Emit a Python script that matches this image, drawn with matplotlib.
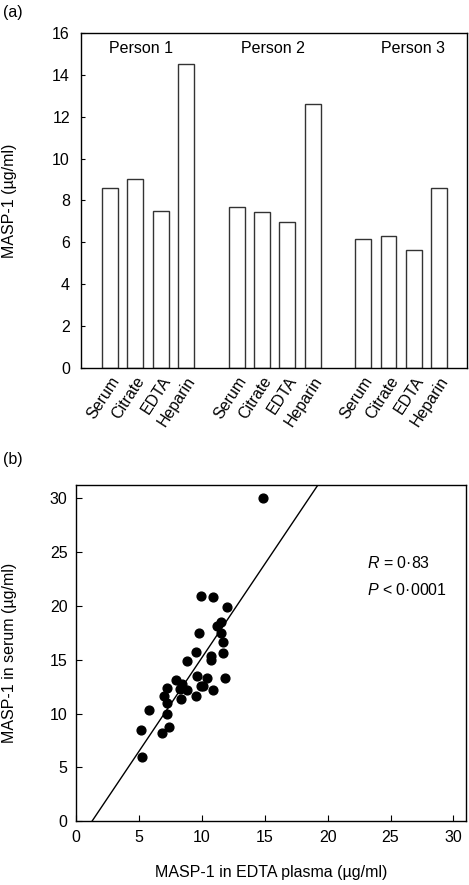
import numpy as np
import matplotlib
matplotlib.use("Agg")
import matplotlib.pyplot as plt

plt.rcParams["font.family"] = ["Liberation Sans", "DejaVu Sans"]
plt.rcParams["font.size"] = 11.5
plt.rcParams["mathtext.fontset"] = "custom"
plt.rcParams["mathtext.rm"] = "Liberation Sans"
plt.rcParams["mathtext.it"] = "Liberation Sans:italic"

# (a) MASP-1 in different sample types
persons = ["Person 1", "Person 2", "Person 3"]
sample_types = ["Serum", "Citrate", "EDTA", "Heparin"]
person1 = [8.6, 9.05, 7.5, 14.5]
person2 = [7.7, 7.45, 6.95, 12.6]
person3 = [6.15, 6.3, 5.65, 8.6]

# (b) EDTA plasma vs serum
edta = [5.17, 5.22, 5.83, 6.87, 7.0, 7.27, 7.27, 7.22, 7.43, 7.96, 8.41, 8.27,
        8.33, 8.8, 8.86, 9.52, 9.52, 9.6, 9.81, 9.92, 10.08, 10.4, 10.71, 10.71,
        10.87, 11.19, 11.51, 11.56, 11.7, 11.7, 11.85, 12.01, 9.92, 10.87, 14.9]
serum = [8.5, 6.0, 10.3, 8.2, 11.6, 12.4, 11.0, 10.0, 8.8, 13.1, 12.8, 12.3,
         11.4, 12.2, 14.9, 15.7, 11.6, 13.5, 17.5, 12.6, 12.6, 13.3, 15.4, 15.0,
         12.2, 18.1, 18.5, 17.5, 16.7, 15.6, 13.3, 19.9, 20.9, 20.8, 30.0]
fit_slope = 1.74
fit_intercept = -2.21

fig = plt.figure(figsize=(4.69, 8.85), dpi=100)

# ---- panel (a)
ax1 = fig.add_axes([0.1727, 0.5842, 0.823, 0.3785])
groups = [person1, person2, person3]
positions = []
heights = []
labels = []
for g, vals in enumerate(groups):
    for i, v in enumerate(vals):
        positions.append(g * 5 + i)
        heights.append(v)
        labels.append(sample_types[i])
ax1.bar(positions, heights, width=0.63, color="white", edgecolor="#333333", linewidth=1)
ax1.set_xlim(-1.15, 14.1)
ax1.set_ylim(0, 16)
ax1.set_yticks(range(0, 17, 2))
ax1.set_xticks(positions)
ax1.set_xticklabels(labels, rotation=57, ha="right", va="top", rotation_mode="anchor")
ax1.tick_params(axis="x", length=0, pad=4)
ax1.tick_params(axis="y", direction="in", length=3, pad=8)
ax1.set_ylabel("MASP-1 (µg/ml)")
ax1.yaxis.set_label_coords(-0.165, 0.5)
for name, xpos in zip(persons, [1.23, 6.44, 11.98]):
    ax1.text(xpos, 15.28, name, ha="center", va="center")
fig.text(0.006, 0.986, "(a)", ha="left", va="center")

# ---- panel (b)
ax2 = fig.add_axes([0.162, 0.072, 0.8316, 0.38])
ax2.scatter(edta, serum, s=40, color="black", zorder=3)
xs = np.array([0, 31])
ax2.plot(xs, fit_slope * xs + fit_intercept, color="black", linewidth=1)
ax2.set_xlim(0, 31)
ax2.set_ylim(0, 31.25)
ax2.set_xticks(range(0, 31, 5))
ax2.set_yticks(range(0, 31, 5))
ax2.tick_params(direction="in", length=4, pad=6)
ax2.set_xlabel("MASP-1 in EDTA plasma (µg/ml)")
ax2.xaxis.set_label_coords(0.5, -0.13)
ax2.set_ylabel("MASP-1 in serum (µg/ml)")
ax2.yaxis.set_label_coords(-0.15, 0.5)
ax2.text(23.1, 24.0, r"$R$ = 0·83", ha="left", va="center")
ax2.text(23.1, 21.5, r"$P$ < 0·0001", ha="left", va="center")
fig.text(0.006, 0.481, "(b)", ha="left", va="center")

for ax in (ax1, ax2):
    for sp in ax.spines.values():
        sp.set_linewidth(1)

fig.savefig("out.png", dpi=100)
